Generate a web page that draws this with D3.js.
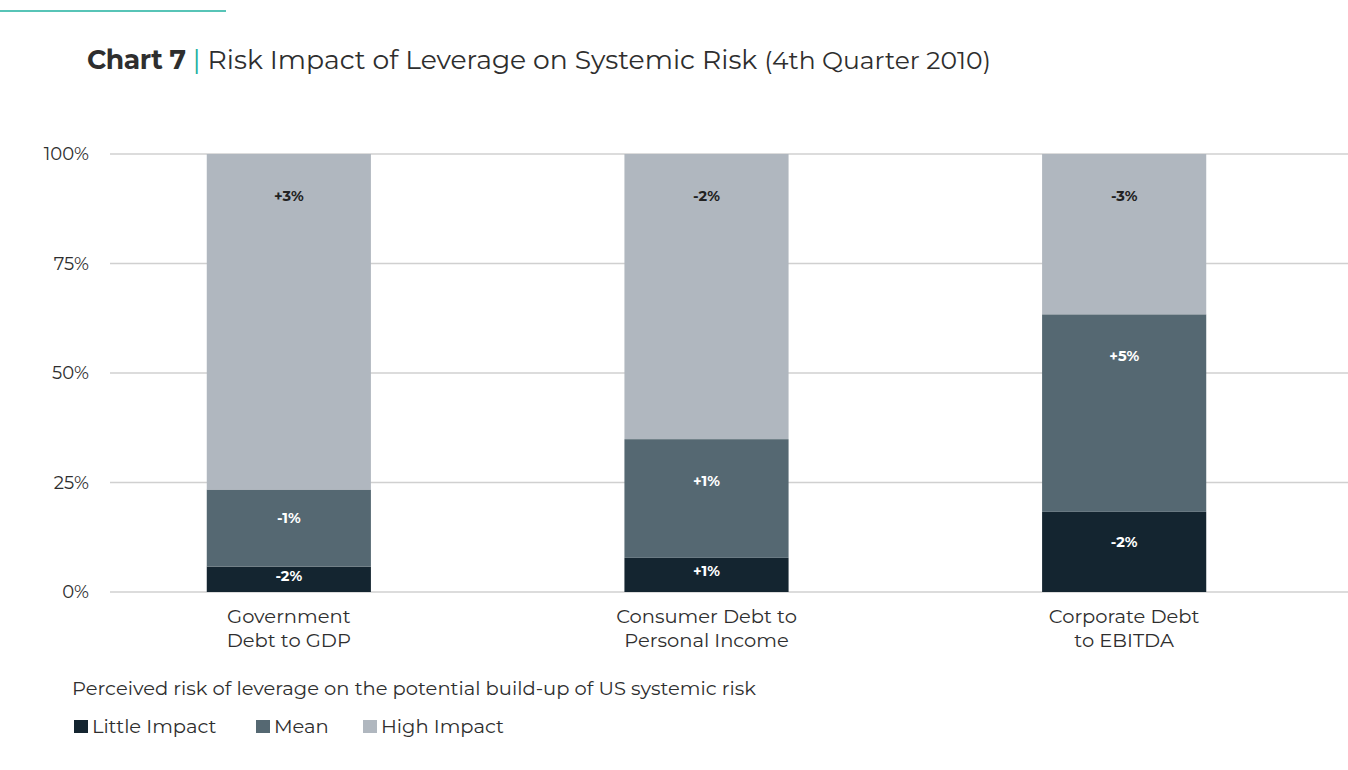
<!DOCTYPE html>
<html>
<head>
<meta charset="utf-8">
<script src="https://cdn.jsdelivr.net/npm/d3@7"></script>
<style>
  html, body { margin: 0; padding: 0; background: #fff; }
  svg { display: block; font-family: "Montserrat", "Inter", "Noto Sans", sans-serif; }
</style>
</head>
<body>
<svg id="chart" width="1348" height="770"></svg>
<script>
// Categories (two-line labels) and stacked shares, in percent
const categories = ["Government Debt to GDP", "Consumer Debt to Personal Income", "Corporate Debt to EBITDA"];
const categoryLines = [["Government", "Debt to GDP"], ["Consumer Debt to", "Personal Income"], ["Corporate Debt", "to EBITDA"]];
const seriesNames = ["Little Impact", "Mean", "High Impact"];
const littleImpact = [5.8, 7.8, 18.3];
const meanImpact = [17.6, 27.1, 45.1];
const highImpact = [76.6, 65.1, 36.6];
// Quarter-over-quarter change printed inside each segment
const littleChange = ["-2%", "+1%", "-2%"];
const meanChange = ["-1%", "+1%", "+5%"];
const highChange = ["+3%", "-2%", "-3%"];
const yTicks = [0, 25, 50, 75, 100];

const colors = ["#142530", "#556872", "#b0b7bf"];
const labelColors = ["#ffffff", "#ffffff", "#222222"];
const textColor = "#2e2e2e";

const svg = d3.select("#chart");

// Accent rule and title
svg.append("line").attr("x1", 0).attr("x2", 226).attr("y1", 11).attr("y2", 11)
  .attr("stroke", "#1fb09f").attr("stroke-width", 1.5);

const title = svg.append("text").attr("x", 87).attr("y", 69)
  .attr("font-size", 26.6).attr("fill", textColor);
title.append("tspan").attr("font-weight", 700).attr("letter-spacing", -0.4).text("Chart 7 ");
title.append("tspan").attr("fill", "#1fb09f").text("| ");
title.append("tspan").text("Risk Impact of Leverage on Systemic Risk ");
title.append("tspan").attr("font-size", 25).text("(4th Quarter 2010)");

// Scales
const y = d3.scaleLinear().domain([0, 100]).range([592, 154]);
const x = d3.scaleBand().domain(categories).range([80, 1333]).paddingInner(0.607).paddingOuter(0.3035);

// Gridlines
svg.append("g").selectAll("line").data(yTicks).join("line")
  .attr("x1", 110).attr("x2", 1348)
  .attr("y1", d => y(d)).attr("y2", d => y(d))
  .attr("stroke", "#d0d0d0").attr("stroke-width", 1.5);

// Y axis labels
const yAxis = d3.axisLeft(y).tickValues(yTicks).tickFormat(d => d + "%").tickSize(0).tickPadding(0);
const yg = svg.append("g").attr("transform", "translate(89,0)").call(yAxis)
  .attr("font-family", null).attr("font-size", null);
yg.select(".domain").remove();
yg.selectAll("text").attr("font-size", 18).attr("fill", textColor);

// Stack the series
const rows = categories.map((c, i) => ({
  cat: c,
  little: littleImpact[i], mean: meanImpact[i], high: highImpact[i],
  labels: [littleChange[i], meanChange[i], highChange[i]]
}));
const stack = d3.stack().keys(["little", "mean", "high"]);
const layers = stack(rows);

const gBars = svg.append("g");
layers.forEach((layer, li) => {
  const g = gBars.append("g");
  g.selectAll("rect").data(layer).join("rect")
    .attr("x", d => x(d.data.cat))
    .attr("width", x.bandwidth())
    .attr("y", d => y(d[1]))
    .attr("height", d => y(d[0]) - y(d[1]))
    .attr("fill", colors[li]);
  g.selectAll("text").data(layer).join("text")
    .attr("x", d => x(d.data.cat) + x.bandwidth() / 2)
    .attr("y", d => {
      const top = y(d[1]);
      const h = y(d[0]) - y(d[1]);
      return top + Math.min(42, h * 0.37);
    })
    .attr("dy", "0.35em")
    .attr("text-anchor", "middle")
    .attr("font-size", 14.5)
    .attr("font-weight", 700)
    .attr("fill", labelColors[li])
    .text(d => d.data.labels[li]);
});

// Category labels
categories.forEach((c, i) => {
  const cx = x(c) + x.bandwidth() / 2;
  const t = svg.append("text")
    .attr("x", cx)
    .attr("y", 623)
    .attr("text-anchor", "middle")
    .attr("font-size", 19.5)
    .attr("fill", textColor);
  categoryLines[i].forEach((line, j) => {
    t.append("tspan").attr("x", cx).attr("dy", j === 0 ? 0 : 24).text(line);
  });
});

// Caption
svg.append("text").attr("x", 72).attr("y", 695)
  .attr("font-size", 19.5).attr("fill", textColor)
  .text("Perceived risk of leverage on the potential build-up of US systemic risk");

// Legend
const legendX = [74, 256, 363];
const lg = svg.append("g");
seriesNames.forEach((name, i) => {
  lg.append("rect").attr("x", legendX[i]).attr("y", 720).attr("width", 14).attr("height", 13).attr("fill", colors[i]);
  lg.append("text").attr("x", legendX[i] + 18).attr("y", 733)
    .attr("font-size", 19.5).attr("fill", textColor).text(name);
});
</script>
</body>
</html>
